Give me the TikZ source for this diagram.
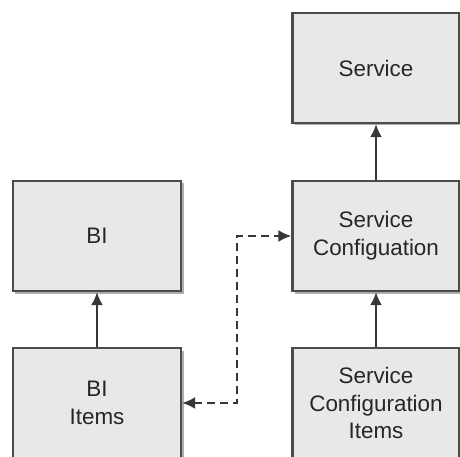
\documentclass[tikz,border=0pt]{standalone}
\usepackage{fontspec}
\setmainfont{Liberation Sans}
\usepackage{tikz}
\usetikzlibrary{arrows,arrows.meta,shadows}
\definecolor{boxfill}{RGB}{232,232,232}
\definecolor{boxline}{RGB}{75,75,75}
\definecolor{linkline}{RGB}{55,55,55}
\tikzset{
  entbox/.style = {rectangle, draw=boxline, fill=boxfill, line width=2.4bp,
    align=center, text=black!85, font=\fontsize{22.5}{28}\selectfont,
    inner sep=0pt, minimum width=167bp, minimum height=110bp,
    drop shadow={shadow xshift=2.5bp, shadow yshift=-2.5bp, fill=black!40, opacity=0.8}},% box of the model
  link/.style = {-{Latex[length=13bp,width=12bp]}, line width=2bp, draw=linkline},% plain link
  dlink/.style = {{Latex[length=13bp,width=12bp]}-{Latex[length=13bp,width=12bp]},
    line width=2bp, draw=linkline, dash pattern=on 8bp off 5bp},% dashed link
}

\begin{document}
\begin{tikzpicture}[x=1bp,y=-1bp]
  \clip (0,0) rectangle (460,457);
  \fill[white] (0,0) rectangle (460,457);

  \node[entbox] (service) at (376,68) {Service};
  \node[entbox] (svccfg) at (376,236) {Service\\Configuation};
  \node[entbox] (svcitems) at (376,403) {Service\\Configuration\\Items};

  \node[entbox, minimum width=168bp] (bi) at (97,236) {BI};
  \node[entbox, minimum width=168bp] (biitems) at (97,403) {BI\\Items};

  \coordinate (jog) at (237,320);

  %   service side
  \draw[link] (svcitems) -- (svccfg);
  \draw[link] (svccfg) -- (service);
  %   BI side
  \draw[link] (biitems) -- (bi);
  %   cross link
  \draw[dlink] (biitems) -| (jog) |- (svccfg);
\end{tikzpicture}
\end{document}
